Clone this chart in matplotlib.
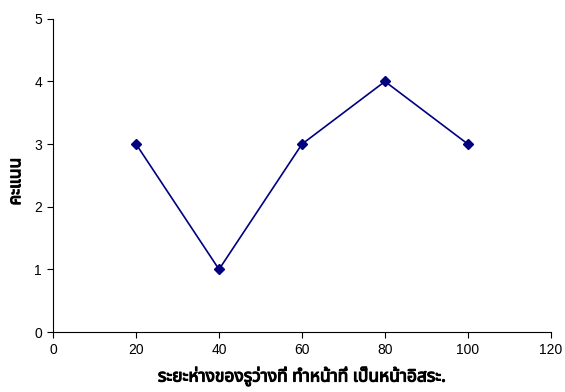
import matplotlib
matplotlib.use("Agg")
import matplotlib.pyplot as plt
import matplotlib.patheffects as pe

# distance values and their scores
distance = [20, 40, 60, 80, 100]
score = [3, 1, 3, 4, 3]

x_ticks = [0, 20, 40, 60, 80, 100, 120]
y_ticks = [0, 1, 2, 3, 4, 5]

thai_fonts = ["Noto Sans Thai", "Noto Sans", "Liberation Sans", "DejaVu Sans"]
plt.rcParams["font.family"] = ["Liberation Sans", "DejaVu Sans"]

fig = plt.figure(figsize=(5.65, 3.92), dpi=100)
ax = fig.add_axes([0.094, 0.153, 0.881, 0.799])

ax.plot(distance, score, color="#000080", linewidth=1.2,
        marker="D", markersize=5.5, markerfacecolor="#000080",
        markeredgecolor="#000080", clip_on=False)

ax.set_xlim(0, 120)
ax.set_ylim(0, 5)
ax.set_xticks(x_ticks)
ax.set_yticks(y_ticks)

for side in ["top", "right"]:
    ax.spines[side].set_visible(False)
for side in ["left", "bottom"]:
    ax.spines[side].set_linewidth(0.8)

ax.tick_params(direction="out", length=4, width=0.8, labelsize=10, pad=4)

# thai font has no bold face here, so thicken the glyphs with a stroke
heavy = [pe.withStroke(linewidth=0.8, foreground="black")]
ax.set_xlabel("ระยะห่างของรูว่างที่ ทำหน้าที่ เป็นหน้าอิสระ.",
              fontsize=12.5, fontweight="bold", family=thai_fonts,
              path_effects=heavy)
ax.set_ylabel("คะแนน", fontsize=12.5, fontweight="bold", family=thai_fonts,
              path_effects=heavy)
ax.xaxis.set_label_coords(0.5, -0.11)
ax.yaxis.set_label_coords(-0.058, 0.48)

fig.savefig("out.png", dpi=100)
